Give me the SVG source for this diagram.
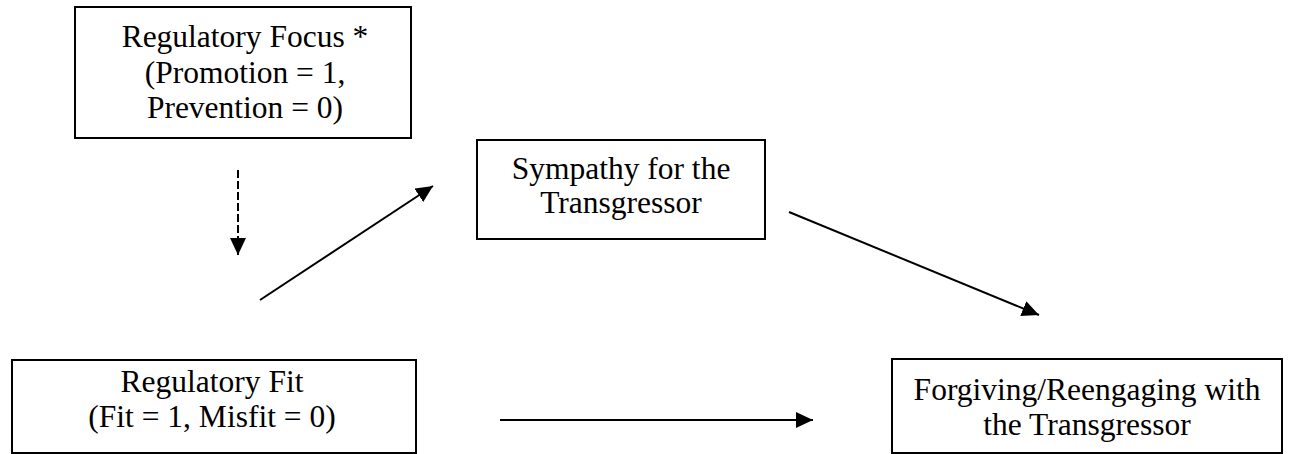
<svg xmlns="http://www.w3.org/2000/svg" width="1296" height="454" viewBox="0 0 1296 454">
<style>
.box{fill:#fff;stroke:#000;stroke-width:2}
.t{font-family:"Liberation Serif","Times New Roman",serif;font-size:31.5px;fill:#000;text-anchor:middle}
.c{stroke:#000;stroke-width:2;fill:none}
</style>
<defs>
<marker id="ah" viewBox="0 0 10 10" refX="10" refY="5" markerWidth="17" markerHeight="16" markerUnits="userSpaceOnUse" orient="auto" preserveAspectRatio="none">
<path d="M0,0 L10,5 L0,10 z" fill="#000"/>
</marker>
</defs>
<rect width="1296" height="454" fill="#fff"/>
<g id="focus">
<rect class="box" x="75" y="7" width="336" height="131"/>
<text class="t" x="245" y="47">Regulatory Focus *</text>
<text class="t" x="245" y="83">(Promotion = 1,</text>
<text class="t" x="245" y="118">Prevention = 0)</text>
</g>
<g id="sympathy">
<rect class="box" x="477" y="140" width="288" height="99"/>
<text class="t" x="621" y="179">Sympathy for the</text>
<text class="t" x="621" y="213">Transgressor</text>
</g>
<g id="fit">
<rect class="box" x="12" y="360" width="404" height="93"/>
<text class="t" x="212" y="392">Regulatory Fit</text>
<text class="t" x="212" y="427">(Fit = 1, Misfit = 0)</text>
</g>
<g id="forgiving">
<rect class="box" x="892" y="359" width="390" height="94"/>
<text class="t" x="1087" y="400">Forgiving/Reengaging with</text>
<text class="t" x="1087" y="435">the Transgressor</text>
</g>
<g id="connectors">
<line class="c" x1="238" y1="170" x2="238" y2="255" stroke-dasharray="8,3" marker-end="url(#ah)"/>
<line class="c" x1="260" y1="300" x2="433" y2="186" marker-end="url(#ah)"/>
<line class="c" x1="789" y1="212" x2="1039" y2="315" marker-end="url(#ah)"/>
<line class="c" x1="500" y1="420" x2="813" y2="420" marker-end="url(#ah)"/>
</g>
</svg>
